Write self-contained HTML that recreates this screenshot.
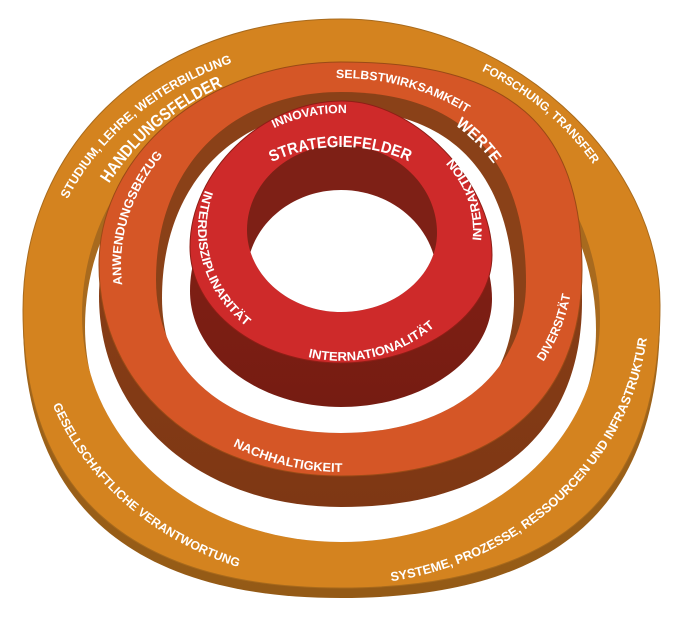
<!DOCTYPE html>
<html>
<head>
<meta charset="utf-8">
<style>
html,body{margin:0;padding:0;background:#fff;}
svg{display:block;}
text{font-family:"Liberation Sans",Arial,sans-serif;font-weight:bold;fill:#fff;}
</style>
</head>
<body>
<svg width="683" height="617" viewBox="0 0 683 617" xmlns="http://www.w3.org/2000/svg">
<defs>
  <clipPath id="ch1"><path d="M82 315 C82 178.9 196 72 341 72 C486 72 600 180.2 600 318 C600 443.4 486 542 341 542 C196 542 82 442.1 82 315Z"/></clipPath>
  <clipPath id="ch2"><path d="M156 280 C156 167.2 230 92 341 92 C461.3 92 526 158.5 526 282 C526 372.6 452 433 341 433 C230 433 156 371.8 156 280Z"/></clipPath>
  <clipPath id="ch3"><path d="M247 230 C247 183.3 289.3 145 341 145 C393.8 145 437 184.6 437 233 C437 276.5 393.8 312 341 312 C289.3 312 247 275.1 247 230Z"/></clipPath>
  <linearGradient id="gOs" x1="0" y1="0" x2="0" y2="1">
    <stop offset="0" stop-color="#B0731F"/><stop offset="1" stop-color="#945A16"/>
  </linearGradient>
  <linearGradient id="gMs" x1="0" y1="0" x2="0" y2="1">
    <stop offset="0" stop-color="#8E4318"/><stop offset="1" stop-color="#7E3714"/>
  </linearGradient>
  <linearGradient id="gRs" x1="0" y1="0" x2="0" y2="1">
    <stop offset="0" stop-color="#862216"/><stop offset="1" stop-color="#761C12"/>
  </linearGradient>

  <path id="p1" d="M67.6 199.2 A300 262 0 0 1 314.8 46"/>
  <path id="p2" d="M109.1 183.6 A268 246 0 0 1 271.6 69.4"/>
  <path id="p3" d="M481.8 70.8 A298 268 0 0 1 621 215.3"/>
  <path id="p4" d="M52.7 405.1 A309 278 0 0 0 314.1 581.9"/>
  <path id="p5" d="M391.3 581.2 A308 280 0 0 0 647.8 280.6"/>
  <path id="p6" d="M336.1 78.1 A216 187 0 0 1 506.5 144.8"/>
  <path id="p7" d="M455 125.1 A186 177 0 0 1 515.8 204.5"/>
  <path id="p8" d="M122.3 284.9 A220 187 0 0 1 199.6 121.8"/>
  <path id="p9" d="M543.3 361.9 A232 198 0 0 0 572.1 247.7"/>
  <path id="p10" d="M232.9 446 A223 207 0 0 0 398.7 464.9"/>
  <path id="p11" d="M274 128.2 A136 117 0 0 1 376.2 117"/>
  <path id="p12" d="M272 162.1 A120 83 0 0 1 425.9 171.3"/>
  <path id="p13" d="M481 241 A140.6 117.3 0 0 0 421.6 133.9"/>
  <path id="p14" d="M205.1 190 A143 128.7 0 0 0 280.6 346.6"/>
  <path id="p15" d="M308 357 A138.4 130.8 0 0 0 454.4 305"/>
</defs>

<rect width="683" height="617" fill="#fff"/>

<!-- OUTER RING -->
<path d="M23 320 C23 151.2 156.6 29 341 29 C506.9 29 660 166.3 660 315 C660 507.4 557.9 598 341 598 C131.1 598 23 503.5 23 320Z" fill="url(#gOs)"/>
<path d="M23 310 C23 141.2 156.6 19 341 19 C506.9 19 660 156.3 660 305 C660 497.4 557.9 588 341 588 C131.1 588 23 493.5 23 310Z" fill="#D4831F" stroke="#A86A1C" stroke-width="1"/>
<path d="M82 315 C82 178.9 196 72 341 72 C486 72 600 180.2 600 318 C600 443.4 486 542 341 542 C196 542 82 442.1 82 315Z" fill="#A86A1E"/>
<path d="M85 327 C85 190.9 197.6 84 341 84 C483.8 84 596 192.2 596 330 C596 455.4 483.8 554 341 554 C197.6 554 85 454.1 85 327Z" fill="#fff" clip-path="url(#ch1)"/>

<!-- MIDDLE RING -->
<path d="M99 296 C99 184.4 207.9 93 341 93 C509.7 93 582 155.4 582 301 C582 432.8 495.2 507 341 507 C200.6 507 99 418.4 99 296Z" fill="url(#gMs)"/>
<path d="M99 265 C99 153.4 207.9 62 341 62 C509.7 62 582 124.4 582 270 C582 401.8 495.2 476 341 476 C200.6 476 99 387.4 99 265Z" fill="#D55626" stroke="#9A4A16" stroke-width="1"/>
<path d="M156 280 C156 167.2 230 92 341 92 C461.3 92 526 158.5 526 282 C526 372.6 452 433 341 433 C230 433 156 371.8 156 280Z" fill="#8A4118"/>
<path d="M162 298 C162 185.2 233.6 110 341 110 C453.5 110 514 176.5 514 300 C514 390.6 444.8 451 341 451 C233.6 451 162 389.8 162 298Z" fill="#fff" clip-path="url(#ch2)"/>

<!-- RED RING -->
<path d="M190 291 C190 215.1 263 145 342 145 C414 145 492 225.1 492 299 C492 358.4 424 407 341 407 C258 407 190 354.8 190 291Z" fill="url(#gRs)"/>
<path d="M190 247 C190 171.1 263 101 342 101 C414 101 492 181.1 492 255 C492 314.4 424 363 341 363 C258 363 190 310.8 190 247Z" fill="#CE2A2A" stroke="#8E1E16" stroke-width="1"/>
<path d="M247 230 C247 183.3 289.3 145 341 145 C393.8 145 437 184.6 437 233 C437 276.5 393.8 312 341 312 C289.3 312 247 275.1 247 230Z" fill="#7E2016"/>
<path d="M247 275 C247 228.3 289.3 190 341 190 C393.8 190 437 229.6 437 278 C437 321.5 393.8 357 341 357 C289.3 357 247 320.1 247 275Z" fill="#fff" clip-path="url(#ch3)"/>

<!-- TEXTS -->
<text font-size="12.5"><textPath href="#p1" textLength="219" lengthAdjust="spacingAndGlyphs">STUDIUM, LEHRE, WEITERBILDUNG</textPath></text>
<text font-size="17"><textPath href="#p2" textLength="152" lengthAdjust="spacingAndGlyphs">HANDLUNGSFELDER</textPath></text>
<text font-size="12"><textPath href="#p3" textLength="147" lengthAdjust="spacingAndGlyphs">FORSCHUNG, TRANSFER</textPath></text>
<text font-size="12.3"><textPath href="#p4" textLength="254" lengthAdjust="spacingAndGlyphs">GESELLSCHAFTLICHE VERANTWORTUNG</textPath></text>
<text font-size="12.7"><textPath href="#p5" textLength="378" lengthAdjust="spacingAndGlyphs">SYSTEME, PROZESSE, RESSOURCEN UND INFRASTRUKTUR</textPath></text>
<text font-size="12"><textPath href="#p6" textLength="137" lengthAdjust="spacingAndGlyphs">SELBSTWIRKSAMKEIT</textPath></text>
<text font-size="16"><textPath href="#p7" textLength="55" lengthAdjust="spacingAndGlyphs">WERTE</textPath></text>
<text font-size="12.5"><textPath href="#p8" textLength="140" lengthAdjust="spacingAndGlyphs">ANWENDUNGSBEZUG</textPath></text>
<text font-size="12.3"><textPath href="#p9" textLength="73" lengthAdjust="spacingAndGlyphs">DIVERSITÄT</textPath></text>
<text font-size="12.5"><textPath href="#p10" textLength="113.5" lengthAdjust="spacingAndGlyphs">NACHHALTIGKEIT</textPath></text>
<text font-size="12"><textPath href="#p11" textLength="75" lengthAdjust="spacingAndGlyphs">INNOVATION</textPath></text>
<text font-size="16"><textPath href="#p12" textLength="141" lengthAdjust="spacingAndGlyphs">STRATEGIEFELDER</textPath></text>
<text font-size="12.5"><textPath href="#p13" textLength="90.5" lengthAdjust="spacingAndGlyphs">INTERAKTION</textPath></text>
<text font-size="12.5"><textPath href="#p14" textLength="152" lengthAdjust="spacingAndGlyphs">INTERDISZIPLINARITÄT</textPath></text>
<text font-size="12.5"><textPath href="#p15" textLength="135" lengthAdjust="spacingAndGlyphs">INTERNATIONALITÄT</textPath></text>
</svg>
</body>
</html>
